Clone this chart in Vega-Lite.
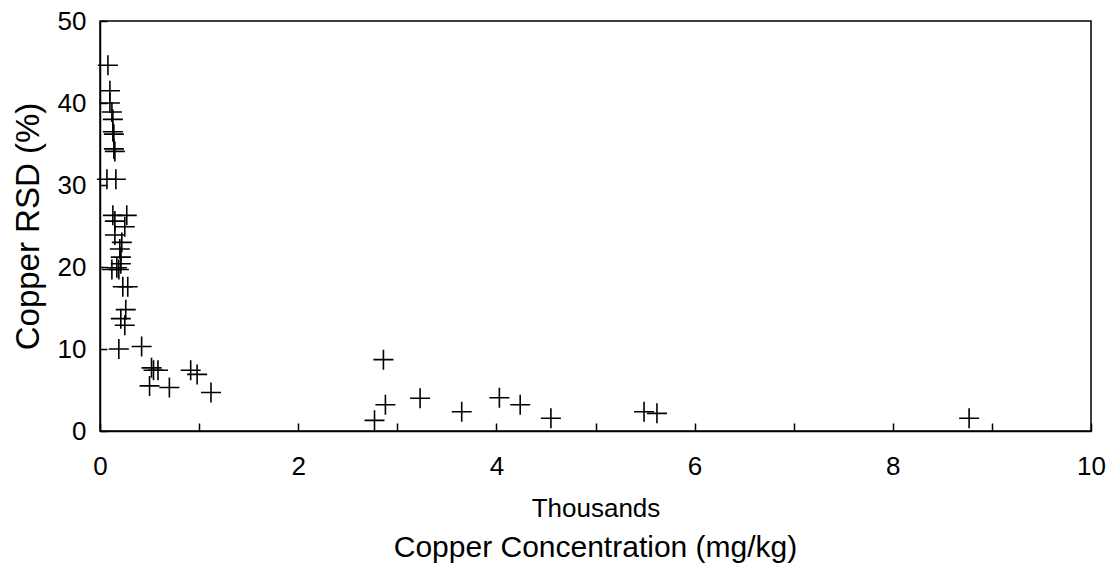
{
  "$schema": "https://vega.github.io/schema/vega-lite/v6.json",
  "width": 991,
  "height": 410,
  "autosize": {"type": "none"},
  "padding": {"left": 100, "top": 21, "right": 21, "bottom": 136},
  "background": "white",
  "config": {
    "font": "Liberation Sans",
    "view": {"stroke": "#000", "strokeWidth": 1.5},
    "axis": {"grid": false, "domainColor": "#000", "tickColor": "#000", "labelColor": "#000", "titleColor": "#000", "labelFont": "Liberation Sans", "titleFont": "Liberation Sans", "titleFontWeight": "normal"}
  },
  "title": {"text": "Copper Concentration (mg/kg)", "orient": "bottom", "anchor": "middle", "fontSize": 30, "fontWeight": "normal", "font": "Liberation Sans", "color": "#000", "offset": 12},
  "data": {"values": [
    {"x": 0.08, "y": 44.6}, {"x": 0.10, "y": 41.5}, {"x": 0.10, "y": 40.0}, {"x": 0.12, "y": 38.9},
    {"x": 0.13, "y": 38.0}, {"x": 0.13, "y": 36.5}, {"x": 0.14, "y": 36.2}, {"x": 0.14, "y": 34.4},
    {"x": 0.15, "y": 34.1}, {"x": 0.07, "y": 30.7}, {"x": 0.16, "y": 30.7}, {"x": 0.13, "y": 26.3},
    {"x": 0.27, "y": 26.3}, {"x": 0.15, "y": 25.6}, {"x": 0.25, "y": 24.9}, {"x": 0.15, "y": 23.9},
    {"x": 0.22, "y": 23.0}, {"x": 0.20, "y": 22.2}, {"x": 0.21, "y": 21.2}, {"x": 0.21, "y": 20.4},
    {"x": 0.12, "y": 19.7}, {"x": 0.19, "y": 19.7}, {"x": 0.17, "y": 19.9}, {"x": 0.23, "y": 17.6},
    {"x": 0.28, "y": 17.6}, {"x": 0.26, "y": 14.8}, {"x": 0.21, "y": 13.7}, {"x": 0.25, "y": 12.9},
    {"x": 0.19, "y": 10.0}, {"x": 0.42, "y": 10.3}, {"x": 0.52, "y": 7.7}, {"x": 0.54, "y": 7.4},
    {"x": 0.585, "y": 7.4}, {"x": 0.50, "y": 5.5}, {"x": 0.70, "y": 5.3}, {"x": 0.915, "y": 7.4},
    {"x": 0.98, "y": 6.9}, {"x": 1.12, "y": 4.7}, {"x": 2.86, "y": 8.7}, {"x": 2.88, "y": 3.2},
    {"x": 2.77, "y": 1.3}, {"x": 3.23, "y": 4.0}, {"x": 3.65, "y": 2.35}, {"x": 4.03, "y": 4.06},
    {"x": 4.24, "y": 3.2}, {"x": 4.55, "y": 1.55}, {"x": 5.49, "y": 2.35}, {"x": 5.62, "y": 2.15},
    {"x": 8.77, "y": 1.55}
  ]},
  "mark": {"type": "point", "shape": "M-1,0L1,0M0,-1L0,1", "size": 400, "filled": false, "stroke": "#000", "strokeWidth": 1.6, "opacity": 1},
  "encoding": {
    "x": {"field": "x", "type": "quantitative", "scale": {"domain": [0, 10], "nice": false, "zero": true},
      "axis": {"title": "Thousands", "titleFontSize": 26, "titlePadding": 16, "labelFontSize": 26, "values": [0,1,2,3,4,5,6,7,8,9,10],
        "labelExpr": "datum.value % 2 == 0 ? datum.label : ''", "tickSize": -8, "tickWidth": 1.5, "domainWidth": 1.5, "labelPadding": 30, "labelFlush": false}},
    "y": {"field": "y", "type": "quantitative", "scale": {"domain": [0, 50], "nice": false},
      "axis": {"title": "Copper RSD (%)", "titleFontSize": 33, "titlePadding": 12, "labelFontSize": 26, "values": [0,10,20,30,40,50],
        "tickSize": -7, "tickWidth": 1.5, "domainWidth": 1.5, "labelPadding": 21, "labelFlush": false}}
  }
}
